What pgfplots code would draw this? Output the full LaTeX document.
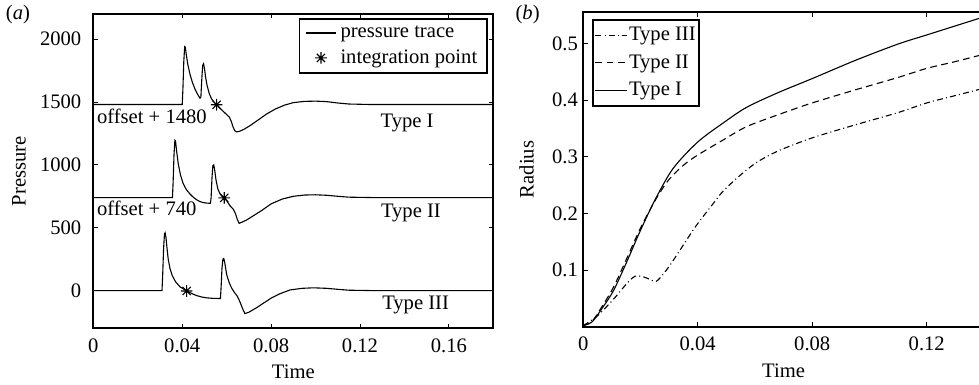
\documentclass[border=0pt]{standalone}
\usepackage{fontspec}
\setmainfont{Liberation Serif}
\usepackage{pgfplots}
\pgfplotsset{compat=1.18}

% eight-armed star for the integration points
\pgfdeclareplotmark{pstar}{%
  \pgfpathmoveto{\pgfqpoint{-\pgfplotmarksize}{0pt}}%
  \pgfpathlineto{\pgfqpoint{\pgfplotmarksize}{0pt}}%
  \pgfpathmoveto{\pgfqpoint{0pt}{-\pgfplotmarksize}}%
  \pgfpathlineto{\pgfqpoint{0pt}{\pgfplotmarksize}}%
  \pgfpathmoveto{\pgfqpoint{-0.707\pgfplotmarksize}{-0.707\pgfplotmarksize}}%
  \pgfpathlineto{\pgfqpoint{0.707\pgfplotmarksize}{0.707\pgfplotmarksize}}%
  \pgfpathmoveto{\pgfqpoint{-0.707\pgfplotmarksize}{0.707\pgfplotmarksize}}%
  \pgfpathlineto{\pgfqpoint{0.707\pgfplotmarksize}{-0.707\pgfplotmarksize}}%
  \pgfusepathqstroke}

% shared look of both panels: boxed axes, inward ticks on all four sides
\pgfplotsset{
  panel/.style={
    scale only axis,
    axis line style={line width=0.9pt},
    tick style={line width=0.45pt, black},
    major tick length=2.2pt,
    tick align=inside,
    xtick pos=both, ytick pos=both,
    /pgf/number format/assume math mode=true,
    xticklabel style={yshift=-1.6pt},
    clip=true,
  },
  trace/.style={black, line width=0.55pt},
}

\begin{document}
\fontsize{10.3}{12}\selectfont
\begin{tikzpicture}

% ---------------- (a) pressure traces ----------------
\begin{axis}[
  panel,
  at={(46.67pt,28.35pt)}, anchor=south west,
  width=200pt, height=157.15pt,
  xmin=0, xmax=0.18, ymin=-300, ymax=2200,
  xtick={0,0.04,0.08,0.12,0.16}, xticklabels={0,0.04,0.08,0.12,0.16},
  ytick={0,500,1000,1500,2000}, yticklabels={0,500,1000,1500,2000},
  yticklabel style={xshift=-2.4pt},
  xlabel={Time}, ylabel={Pressure},
  xlabel style={at={(axis description cs:0.5,-0.138)}, anchor=center},
  ylabel style={at={(axis description cs:-0.186,0.5)}, anchor=center, rotate=0},
  legend cell align=left,
  legend image code/.code={\draw[#1, mark repeat=2, mark phase=2]
      plot coordinates {(0pt,0pt) (7.5pt,0pt) (15pt,0pt)};},
  legend style={at={(0.987,0.988)}, anchor=north east, draw=black,
      line width=0.9pt, inner xsep=3pt, inner ysep=1.5pt, row sep=0.6pt,
      font=\fontsize{10.3}{12}\selectfont},
]
% Type I, shifted up by 1480
\addplot[trace] coordinates {
(0,1480) (0.0400,1480) (0.0403,1600) (0.0407,1820) (0.0411,1940) (0.0414,1935)
(0.0418,1880) (0.0425,1800) (0.0435,1720) (0.0446,1655) (0.0457,1605)
(0.0468,1565) (0.0480,1530) (0.0484,1540) (0.0488,1680) (0.0492,1790)
(0.0496,1805) (0.0500,1770) (0.0505,1700) (0.0512,1630) (0.0522,1565)
(0.0532,1525) (0.0545,1495) (0.0555,1478) (0.0570,1450) (0.0585,1425)
(0.0600,1400) (0.0612,1380) (0.0620,1350) (0.0628,1305) (0.0636,1272)
(0.0645,1262) (0.0660,1268) (0.0680,1285) (0.0705,1312) (0.0740,1355)
(0.0780,1405) (0.0820,1445) (0.0860,1475) (0.0900,1495) (0.0950,1505)
(0.1000,1507) (0.1050,1503) (0.1100,1492) (0.1150,1484) (0.1250,1480)
(0.1800,1480)};
\addlegendentry{pressure trace}
\addplot[black, only marks, mark=pstar, mark size=2.9pt, line width=0.55pt]
  coordinates {(0.0555,1478) (0.0589,738) (0.0420,-3)};
\addlegendentry{integration point}
% Type II, shifted up by 740
\addplot[trace, forget plot] coordinates {
(0,740) (0.0356,740) (0.0359,860) (0.0363,1080) (0.0367,1195) (0.0370,1190)
(0.0374,1120) (0.0382,1010) (0.0392,920) (0.0404,852) (0.0418,805)
(0.0435,768) (0.0450,742) (0.0465,722) (0.0480,708) (0.0495,700)
(0.0510,696) (0.0527,694) (0.0530,740) (0.0534,900) (0.0538,995)
(0.0542,1000) (0.0546,960) (0.0552,880) (0.0560,810) (0.0570,770)
(0.0580,748) (0.0589,738) (0.0600,715) (0.0615,675) (0.0630,647)
(0.0640,610) (0.0648,565) (0.0656,535) (0.0670,545) (0.0690,562)
(0.0720,595) (0.0760,640) (0.0800,690) (0.0850,728) (0.0900,750)
(0.0950,760) (0.1000,762) (0.1050,758) (0.1100,750) (0.1150,743)
(0.1250,740) (0.1800,740)};
% Type III, no offset
\addplot[trace, forget plot] coordinates {
(0,0) (0.0309,0) (0.0312,120) (0.0316,330) (0.0320,450) (0.0323,460)
(0.0327,420) (0.0332,330) (0.0337,250) (0.0345,175) (0.0355,120)
(0.0370,70) (0.0390,30) (0.0420,-3) (0.0445,-25) (0.0465,-40)
(0.0490,-52) (0.0510,-58) (0.0540,-62) (0.0572,-63) (0.0575,30)
(0.0579,180) (0.0583,250) (0.0587,255) (0.0591,225) (0.0597,160)
(0.0600,127) (0.0611,65) (0.0622,21) (0.0635,-15) (0.0648,-45)
(0.0655,-70) (0.0662,-100) (0.0672,-145) (0.0682,-183) (0.0700,-172)
(0.0734,-137) (0.0770,-95) (0.0800,-60) (0.0840,-25) (0.0885,5)
(0.0940,18) (0.0990,22) (0.1050,18) (0.1100,10) (0.1150,3)
(0.1250,0) (0.1800,0)};
\node[anchor=west, inner sep=0pt] at (axis cs:0.0015,1385) {offset + 1480};
\node[anchor=west, inner sep=0pt] at (axis cs:0.0015,657) {offset + 740};
\node[inner sep=0pt] at (axis cs:0.1412,1335) {Type I};
\node[inner sep=0pt] at (axis cs:0.1429,615) {Type II};
\node[inner sep=0pt] at (axis cs:0.1450,-116) {Type III};
\end{axis}

% ---------------- (b) radius growth ----------------
\begin{axis}[
  panel,
  at={(291.6pt,29.15pt)}, anchor=south west,
  width=200.4pt, height=157.2pt,
  xmin=0, xmax=0.14, ymin=0, ymax=0.555,
  xtick={0,0.04,0.08,0.12}, xticklabels={0,0.04,0.08,0.12},
  ytick={0.1,0.2,0.3,0.4,0.5}, yticklabels={0.1,0.2,0.3,0.4,0.5},
  yticklabel style={xshift=0.95pt},
  xlabel={Time}, ylabel={Radius},
  xlabel style={at={(axis description cs:0.5,-0.14)}, anchor=center},
  ylabel style={at={(axis description cs:-0.141,0.5)}, anchor=center, rotate=0},
  legend cell align=left,
  legend image code/.code={\draw[#1] (0pt,0pt) -- (16pt,0pt);},
  legend style={at={(0.022,0.979)}, anchor=north west, draw=black,
      line width=0.9pt, inner xsep=1pt, inner ysep=1.5pt, row sep=1.6pt,
      font=\fontsize{10.3}{12}\selectfont,
      nodes={inner xsep=0.5pt}},
]
\addplot[trace, smooth, dash pattern=on 3pt off 1.6pt on 0.5pt off 1.6pt] coordinates {
(0,0.002) (0.0047,0.018) (0.0105,0.048) (0.0152,0.076) (0.0181,0.089)
(0.0210,0.088) (0.0235,0.083) (0.0255,0.080) (0.0280,0.093) (0.0305,0.110)
(0.0338,0.135) (0.0370,0.160) (0.0400,0.182) (0.0455,0.218) (0.0490,0.240)
(0.0550,0.268) (0.0606,0.290) (0.0680,0.310) (0.0798,0.333) (0.0955,0.357)
(0.1100,0.378) (0.1200,0.395) (0.1300,0.408) (0.1400,0.421)};
\addlegendentry{Type III}
\addplot[trace, smooth, dash pattern=on 3.4pt off 2.2pt] coordinates {
(0,0.002) (0.0030,0.009) (0.0060,0.031) (0.0105,0.069) (0.0150,0.118)
(0.0200,0.174) (0.0255,0.226) (0.0300,0.260) (0.0350,0.285) (0.0400,0.303)
(0.0490,0.330) (0.0570,0.353) (0.0680,0.374) (0.0800,0.395) (0.0950,0.418)
(0.1100,0.440) (0.1200,0.456) (0.1300,0.468) (0.1400,0.481)};
\addlegendentry{Type II}
\addplot[trace, smooth] coordinates {
(0,0.002) (0.0030,0.008) (0.0060,0.028) (0.0105,0.063) (0.0150,0.112)
(0.0200,0.170) (0.0255,0.228) (0.0315,0.280) (0.0400,0.326) (0.0490,0.360)
(0.0570,0.387) (0.0680,0.413) (0.0800,0.438) (0.0950,0.470) (0.1100,0.499)
(0.1200,0.515) (0.1300,0.531) (0.1400,0.547)};
\addlegendentry{Type I}
\end{axis}

\node at (9pt,185pt) {(\textit{a})};
\node at (263.8pt,185pt) {(\textit{b})};

% page ends at the right edge of the figure
\pgfresetboundingbox
\useasboundingbox (0pt,0pt) rectangle (489.5pt,192.5pt);
\end{tikzpicture}
\end{document}
